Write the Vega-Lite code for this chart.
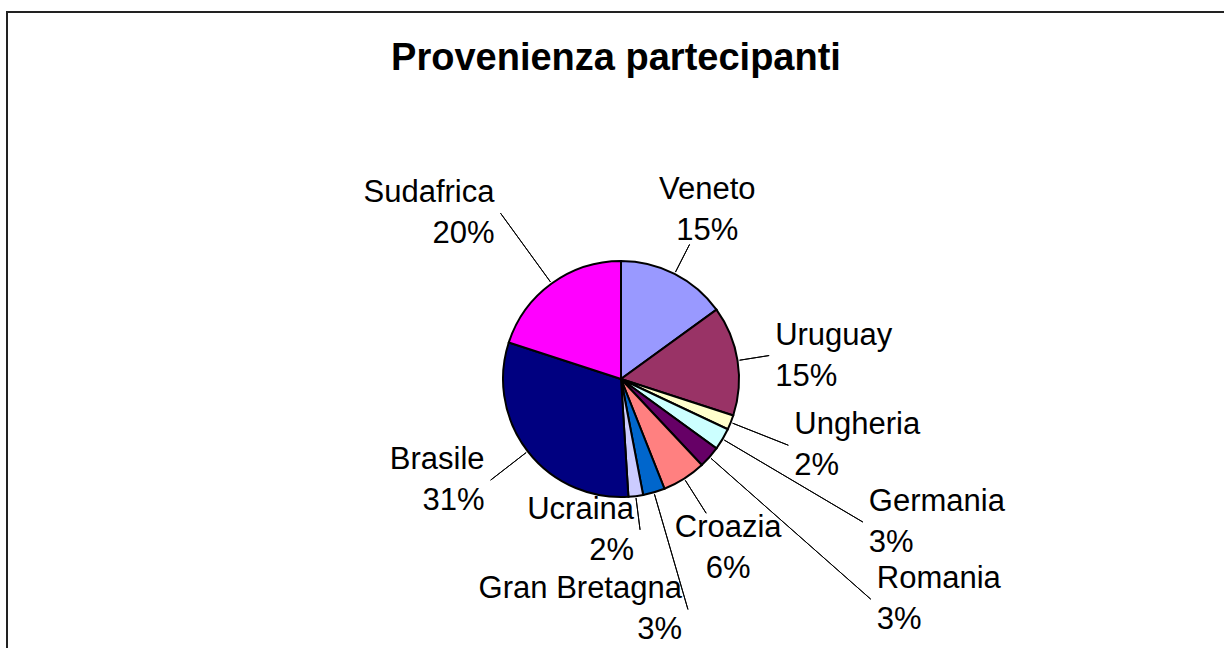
{
  "$schema": "https://vega.github.io/schema/vega-lite/v6.json",
  "width": 1228,
  "height": 734,
  "autosize": {"type": "none"},
  "padding": {"left": 7, "top": 12, "right": 0, "bottom": 0},
  "background": "white",
  "view": {"stroke": "#222222", "strokeWidth": 2, "fill": "white"},
  "config": {"font": "Liberation Sans"},
  "title": {"text": "Provenienza partecipanti", "font": "Liberation Sans", "fontSize": 38, "fontWeight": "bold", "color": "#000000", "anchor": "middle", "offset": -66, "dx": -5},
  "data": {"values": [
    {"paese": "Veneto", "quota": 15, "etichetta": "Veneto\n15%"},
    {"paese": "Uruguay", "quota": 15, "etichetta": "Uruguay\n15%"},
    {"paese": "Ungheria", "quota": 2, "etichetta": "Ungheria\n2%"},
    {"paese": "Germania", "quota": 3, "etichetta": "Germania\n3%"},
    {"paese": "Romania", "quota": 3, "etichetta": "Romania\n3%"},
    {"paese": "Croazia", "quota": 6, "etichetta": "Croazia\n6%"},
    {"paese": "Gran Bretagna", "quota": 3, "etichetta": "Gran Bretagna\n3%"},
    {"paese": "Ucraina", "quota": 2, "etichetta": "Ucraina\n2%"},
    {"paese": "Brasile", "quota": 31, "etichetta": "Brasile\n31%"},
    {"paese": "Sudafrica", "quota": 20, "etichetta": "Sudafrica\n20%"}
  ]},
  "transform": [{"window": [{"op": "row_number", "as": "ordine"}]}],
  "encoding": {
    "theta": {"field": "quota", "type": "quantitative", "stack": true},
    "order": {"field": "ordine", "type": "quantitative"},
    "detail": {"field": "paese", "type": "nominal"}
  },
  "layer": [
    {
      "mark": {"type": "arc", "radius": 118, "stroke": "#000000", "strokeWidth": 2},
      "encoding": {
        "color": {"field": "paese", "type": "nominal", "legend": null,
          "scale": {"domain": ["Veneto", "Uruguay", "Ungheria", "Germania", "Romania", "Croazia", "Gran Bretagna", "Ucraina", "Brasile", "Sudafrica"],
                    "range": ["#9999FF", "#993366", "#FFFFCC", "#CCFFFF", "#660066", "#FF8080", "#0066CC", "#CCCCFF", "#000080", "#FF00FF"]}}
      }
    },
    {"mark": {"type": "arc", "radius": 151, "radius2": 120, "padAngle": 3, "filled": false, "stroke": "#000000", "strokeWidth": 1},
     "encoding": {"strokeOpacity": {"condition": {"test": "datum.paese === 'Veneto'", "value": 1}, "value": 0}}},
    {"mark": {"type": "arc", "radius": 159, "radius2": 120, "padAngle": 3, "filled": false, "stroke": "#000000", "strokeWidth": 1},
     "encoding": {"strokeOpacity": {"condition": {"test": "datum.paese === 'Croazia'", "value": 1}, "value": 0}}},
    {"mark": {"type": "arc", "radius": 240, "radius2": 120, "padAngle": 3, "filled": false, "stroke": "#000000", "strokeWidth": 1},
     "encoding": {"strokeOpacity": {"condition": {"test": "datum.paese === 'Gran Bretagna'", "value": 1}, "value": 0}}},
    {"mark": {"type": "arc", "radius": 150, "radius2": 120, "padAngle": 3, "filled": false, "stroke": "#000000", "strokeWidth": 1},
     "encoding": {"strokeOpacity": {"condition": {"test": "datum.paese === 'Uruguay'", "value": 1}, "value": 0}}},
    {"mark": {"type": "arc", "radius": 180, "radius2": 120, "padAngle": 3, "filled": false, "stroke": "#000000", "strokeWidth": 1},
     "encoding": {"strokeOpacity": {"condition": {"test": "datum.paese === 'Ungheria'", "value": 1}, "value": 0}}},
    {"mark": {"type": "arc", "radius": 281, "radius2": 120, "padAngle": 3, "filled": false, "stroke": "#000000", "strokeWidth": 1},
     "encoding": {"strokeOpacity": {"condition": {"test": "datum.paese === 'Germania'", "value": 1}, "value": 0}}},
    {"mark": {"type": "arc", "radius": 333, "radius2": 120, "padAngle": 3, "filled": false, "stroke": "#000000", "strokeWidth": 1},
     "encoding": {"strokeOpacity": {"condition": {"test": "datum.paese === 'Romania'", "value": 1}, "value": 0}}},
    {"mark": {"type": "arc", "radius": 152, "radius2": 120, "padAngle": 3, "filled": false, "stroke": "#000000", "strokeWidth": 1},
     "encoding": {"strokeOpacity": {"condition": {"test": "datum.paese === 'Ucraina'", "value": 1}, "value": 0}}},
    {"mark": {"type": "arc", "radius": 165, "radius2": 120, "padAngle": 3, "filled": false, "stroke": "#000000", "strokeWidth": 1},
     "encoding": {"strokeOpacity": {"condition": {"test": "datum.paese === 'Brasile'", "value": 1}, "value": 0}}},
    {"mark": {"type": "arc", "radius": 205, "radius2": 120, "padAngle": 3, "filled": false, "stroke": "#000000", "strokeWidth": 1},
     "encoding": {"strokeOpacity": {"condition": {"test": "datum.paese === 'Sudafrica'", "value": 1}, "value": 0}}},
    {"mark": {"type": "text", "radius": 190, "dy": -20, "fontSize": 31, "lineHeight": 41, "lineBreak": "\n", "align": "center", "baseline": "middle", "color": "#000000"},
     "encoding": {"text": {"condition": {"test": "datum.paese === 'Veneto'", "field": "etichetta"}, "value": ""}}},
    {"mark": {"type": "text", "radius": 200, "dy": -20, "fontSize": 31, "lineHeight": 41, "lineBreak": "\n", "align": "center", "baseline": "middle", "color": "#000000"},
     "encoding": {"text": {"condition": {"test": "datum.paese === 'Croazia'", "field": "etichetta"}, "value": ""}}},
    {"mark": {"type": "text", "radius": 150, "dx": 6, "dy": -20, "fontSize": 31, "lineHeight": 41, "lineBreak": "\n", "align": "left", "baseline": "middle", "color": "#000000"},
     "encoding": {"text": {"condition": {"test": "datum.paese === 'Uruguay'", "field": "etichetta"}, "value": ""}}},
    {"mark": {"type": "text", "radius": 180, "dx": 6, "dy": -20, "fontSize": 31, "lineHeight": 41, "lineBreak": "\n", "align": "left", "baseline": "middle", "color": "#000000"},
     "encoding": {"text": {"condition": {"test": "datum.paese === 'Ungheria'", "field": "etichetta"}, "value": ""}}},
    {"mark": {"type": "text", "radius": 281, "dx": 6, "dy": -20, "fontSize": 31, "lineHeight": 41, "lineBreak": "\n", "align": "left", "baseline": "middle", "color": "#000000"},
     "encoding": {"text": {"condition": {"test": "datum.paese === 'Germania'", "field": "etichetta"}, "value": ""}}},
    {"mark": {"type": "text", "radius": 333, "dx": 6, "dy": -20, "fontSize": 31, "lineHeight": 41, "lineBreak": "\n", "align": "left", "baseline": "middle", "color": "#000000"},
     "encoding": {"text": {"condition": {"test": "datum.paese === 'Romania'", "field": "etichetta"}, "value": ""}}},
    {"mark": {"type": "text", "radius": 240, "dx": -6, "dy": -20, "fontSize": 31, "lineHeight": 41, "lineBreak": "\n", "align": "right", "baseline": "middle", "color": "#000000"},
     "encoding": {"text": {"condition": {"test": "datum.paese === 'Gran Bretagna'", "field": "etichetta"}, "value": ""}}},
    {"mark": {"type": "text", "radius": 152, "dx": -6, "dy": -20, "fontSize": 31, "lineHeight": 41, "lineBreak": "\n", "align": "right", "baseline": "middle", "color": "#000000"},
     "encoding": {"text": {"condition": {"test": "datum.paese === 'Ucraina'", "field": "etichetta"}, "value": ""}}},
    {"mark": {"type": "text", "radius": 165, "dx": -6, "dy": -20, "fontSize": 31, "lineHeight": 41, "lineBreak": "\n", "align": "right", "baseline": "middle", "color": "#000000"},
     "encoding": {"text": {"condition": {"test": "datum.paese === 'Brasile'", "field": "etichetta"}, "value": ""}}},
    {"mark": {"type": "text", "radius": 205, "dx": -6, "dy": -20, "fontSize": 31, "lineHeight": 41, "lineBreak": "\n", "align": "right", "baseline": "middle", "color": "#000000"},
     "encoding": {"text": {"condition": {"test": "datum.paese === 'Sudafrica'", "field": "etichetta"}, "value": ""}}}
  ]
}
